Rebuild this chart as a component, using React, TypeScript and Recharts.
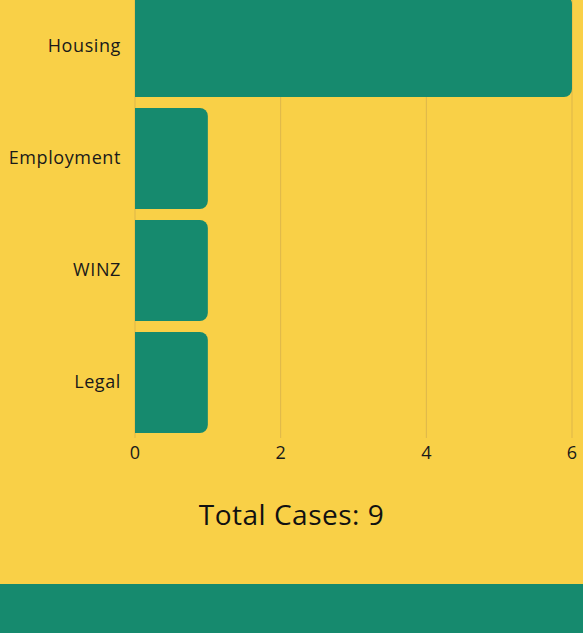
import { BarChart, Bar, XAxis, YAxis, CartesianGrid } from "recharts";

const categories = ["Housing", "Employment", "WINZ", "Legal"];
const cases = [6, 1, 1, 1];
const xTicks = [0, 2, 4, 6];
const totalCases = 9;

const data = categories.map((name, i) => ({ name, cases: cases[i] }));

const YELLOW = "#F9D047";
const GREEN = "#168A6E";
const FONT = "'Open Sans', sans-serif";

export default function App() {
  return (
    <div
      style={{
        position: "relative",
        width: 583,
        height: 633,
        background: YELLOW,
        overflow: "hidden",
        fontFamily: FONT,
      }}
    >
      <style>{`body{margin:0}`}</style>
      <div style={{ position: "absolute", top: -10, left: 0 }}>
        <BarChart
          width={583}
          height={478}
          data={data}
          layout="vertical"
          margin={{ top: 0, right: 11, bottom: 0, left: 0 }}
        >
          <CartesianGrid horizontal={false} stroke="#DDB64B" />
          <XAxis
            type="number"
            domain={[0, 6]}
            ticks={xTicks}
            axisLine={false}
            tickLine={false}
            height={30}
            tick={{ fill: "#1a1a1a", fontSize: 18, fontFamily: FONT }}
          />
          <YAxis
            type="category"
            dataKey="name"
            width={135}
            axisLine={false}
            tickLine={false}
            tickMargin={8}
            tick={{
              fill: "#1a1a1a",
              fontSize: 18,
              fontFamily: FONT,
              letterSpacing: 0.6,
            }}
          />
          <Bar
            dataKey="cases"
            fill={GREEN}
            barSize={101}
            radius={[0, 8, 8, 0]}
            isAnimationActive={false}
          />
        </BarChart>
      </div>
      <div
        style={{
          position: "absolute",
          top: 495,
          left: 0,
          width: 583,
          textAlign: "center",
          fontSize: 28,
          letterSpacing: 0.5,
          color: "#111",
        }}
      >
        Total Cases: {totalCases}
      </div>
      <div
        style={{
          position: "absolute",
          top: 584,
          left: 0,
          width: 583,
          height: 49,
          background: GREEN,
        }}
      />
    </div>
  );
}
